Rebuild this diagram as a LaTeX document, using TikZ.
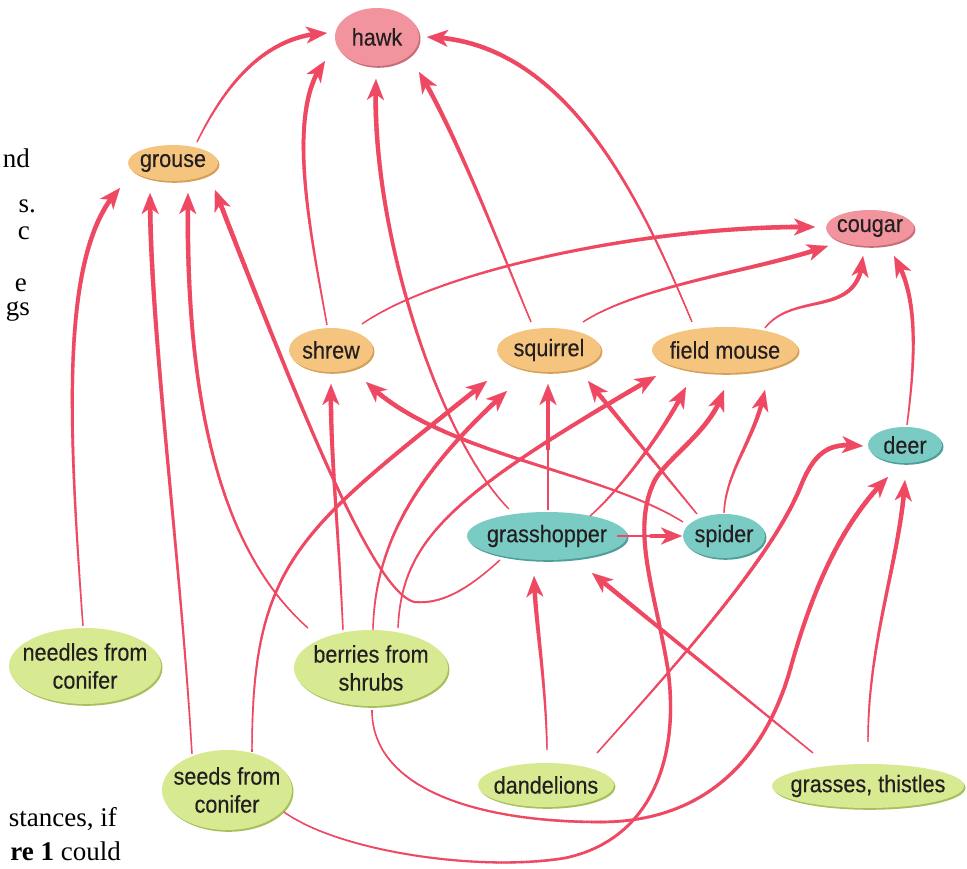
\documentclass[tikz,border=0pt]{standalone}
\usepackage{fontspec}
\setmainfont{Liberation Serif}
\newfontfamily\nodefont[FakeStretch=0.9,FakeBold=0.3]{Liberation Sans}
\usetikzlibrary{arrows.meta,bending,shapes.geometric,shadows,decorations.markings}
\definecolor{arrowred}{HTML}{EF4862}
\definecolor{predpink}{HTML}{F2949E}
\definecolor{predpinkdk}{HTML}{C96E79}
\definecolor{tanfill}{HTML}{F5C57F}
\definecolor{tandk}{HTML}{D6A05A}
\definecolor{tealfill}{HTML}{7BCBC5}
\definecolor{tealdk}{HTML}{4E9F99}
\definecolor{leaffill}{HTML}{D7EA91}
\definecolor{leafdk}{HTML}{A7C05C}
\definecolor{labeltext}{HTML}{231F20}
\tikzset{
  eco/.style={ellipse, inner sep=0pt, outer sep=0pt},
  lbl/.style={font=\nodefont\fontsize{24}{28}\selectfont, text=labeltext, align=center, inner sep=0pt},
  pred/.style={eco, fill=predpink, drop shadow={shadow xshift=1.5pt,shadow yshift=-1.8pt,fill=predpinkdk,opacity=1}},
  mid/.style={eco, fill=tanfill, drop shadow={shadow xshift=1.5pt,shadow yshift=-1.8pt,fill=tandk,opacity=1}},
  herb/.style={eco, fill=tealfill, drop shadow={shadow xshift=1.5pt,shadow yshift=-1.8pt,fill=tealdk,opacity=1}},
  plant/.style={eco, fill=leaffill, drop shadow={shadow xshift=1.5pt,shadow yshift=-1.8pt,fill=leafdk,opacity=1}},
  arr/.style={draw=arrowred, line width=0.1pt, -{Stealth[length=21pt,width=17pt,inset=6pt,flex]},
     postaction={decorate}, decoration={markings,
     mark=between positions 0 and -10pt step 2.5pt with {%
       \pgfmathsetmacro\tapw{1.4+3.4*(\pgfkeysvalueof{/pgf/decoration/mark info/distance from start})/(\pgfdecoratedpathlength)}%
       \draw[-, draw=arrowred, line width=\tapw pt] (0pt,0pt) -- (3.3pt,0pt);}}},
  side/.style={font=\fontsize{27}{30}\selectfont, text=black, inner sep=0pt}
}
\begin{document}
\begin{tikzpicture}[x=1pt,y=-1pt]
\fill[white] (0,0) rectangle (967,869);
\useasboundingbox (0,0) rectangle (967,869);

% page text fragments
\node[side, anchor=base east] (t1) at (30,168) {nd};
\node[side, anchor=base east] (t2) at (36,213) {s.};
\node[side, anchor=base east] (t3) at (30,240) {c};
\node[side, anchor=base east] (t4) at (27,291) {e};
\node[side, anchor=base east] (t5) at (30,316) {gs};
\node[side, anchor=base east] (t6) at (117,826) {stances, if};
\node[side, anchor=base east] (t7) at (121,860) {\textbf{re 1} could};

% nodes
\node[pred, minimum width=84pt, minimum height=58pt, label={[lbl]center:hawk}] (hawk) at (377,37) {};
\node[mid, minimum width=90pt, minimum height=36pt, label={[lbl]center:grouse}] (grouse) at (173,163) {};
\node[pred, minimum width=88pt, minimum height=36pt, label={[lbl]center:cougar}] (cougar) at (870,228) {};
\node[mid, minimum width=84pt, minimum height=44pt, label={[lbl]center:shrew}] (shrew) at (331,350) {};
\node[mid, minimum width=104pt, minimum height=44pt, label={[lbl]center:squirrel}] (squirrel) at (549,350) {};
\node[mid, minimum width=146pt, minimum height=46pt, label={[lbl]center:field mouse}] (fmouse) at (725,350) {};
\node[herb, minimum width=74pt, minimum height=36pt, label={[lbl]center:deer}] (deer) at (905,445) {};
\node[herb, minimum width=160pt, minimum height=48pt, label={[lbl]center:grasshopper}] (grasshopper) at (547,536) {};
\node[herb, minimum width=82pt, minimum height=44pt, label={[lbl]center:spider}] (spider) at (724,536) {};
\node[plant, minimum width=152pt, minimum height=76pt, label={[lbl]center:{needles from\\conifer}}] (needles) at (85,666) {};
\node[plant, minimum width=154pt, minimum height=76pt, label={[lbl]center:{berries from\\shrubs}}] (berries) at (371,668) {};
\node[plant, minimum width=130pt, minimum height=80pt, label={[lbl]center:{seeds from\\conifer}}] (seeds) at (227,790) {};
\node[plant, minimum width=136pt, minimum height=44pt, label={[lbl]center:dandelions}] (dandelions) at (546,785) {};
\node[plant, minimum width=192pt, minimum height=44pt, label={[lbl]center:{grasses, thistles}}] (grasses) at (868,786) {};

% to hawk
\draw[arr] ([shift={(24,-21)}]grouse.center) .. controls (225,85) and (265,35) .. ([shift={(-50,-4)}]hawk.center);
\draw[arr] ([shift={(-4,-25)}]shrew.center) .. controls (310,230) and (285,110) .. ([shift={(-52,24)}]hawk.center);
\draw[arr] ([shift={(-38,-27)}]grasshopper.center) .. controls (440,440) and (370,230) .. ([shift={(-1,42)}]hawk.center);
\draw[arr] ([shift={(-18,-28)}]squirrel.center) .. controls (505,260) and (455,130) .. ([shift={(42,35)}]hawk.center);
\draw[arr] ([shift={(-33,-28)}]fmouse.center) .. controls (645,210) and (570,40) .. ([shift={(50,0)}]hawk.center);

% to grouse
\draw[arr] ([shift={(-2,-40)}]needles.center) .. controls (68,420) and (60,250) .. ([shift={(-53,25)}]grouse.center);
\draw[arr] ([shift={(-35,-36)}]seeds.center) .. controls (180,550) and (150,330) .. ([shift={(-23,30)}]grouse.center);
\draw[arr] ([shift={(-63,-40)}]berries.center) .. controls (220,550) and (185,400) .. ([shift={(15,30)}]grouse.center);
\draw[arr] ([shift={(-47,24)}]grasshopper.center) .. controls (465,592) and (440,604) .. (415,602)
   .. controls (375,594) and (305,422) .. ([shift={(42,27)}]grouse.center);

% to squirrel
\draw[arr] ([shift={(25,-38)}]seeds.center) .. controls (252,560) and (300,530) .. ([shift={(-62,31)}]squirrel.center);
\draw[arr] ([shift={(2,-38)}]berries.center) .. controls (375,540) and (420,470) .. ([shift={(-42,41)}]squirrel.center);
\draw[arr] ([shift={(1,-26)}]grasshopper.center) -- ([shift={(-1,34)}]squirrel.center);
\draw[arr] ([shift={(-27,-22)}]spider.center) -- ([shift={(39,31)}]squirrel.center);

% to shrew
\draw[arr] ([shift={(-28,-38)}]berries.center) .. controls (338,520) and (330,450) .. ([shift={(0,34)}]shrew.center);
\draw[arr] ([shift={(-41,-14)}]spider.center) .. controls (600,470) and (440,455) .. ([shift={(35,32)}]shrew.center);

% to field mouse
\draw[arr] ([shift={(27,-40)}]berries.center) .. controls (402,540) and (450,495) .. ([shift={(-69,26)}]fmouse.center);
\draw[arr] ([shift={(43,-20)}]grasshopper.center) .. controls (620,490) and (665,430) .. ([shift={(-39,37)}]fmouse.center);
\draw[arr] ([shift={(57,22)}]seeds.center) .. controls (340,852) and (480,872) .. (565,858)
   .. controls (650,840) and (680,760) .. (668,670)
   .. controls (655,590) and (630,530) .. (655,480)
   .. controls (670,455) and (712,430) .. ([shift={(-1,40)}]fmouse.center);
\draw[arr] ([shift={(0,-23)}]spider.center) .. controls (726,470) and (755,440) .. ([shift={(40,40)}]fmouse.center);

% to spider and grasshopper
\draw[arr] ([shift={(70,0)}]grasshopper.center) -- ([shift={(-42,0)}]spider.center);
\draw[arr] ([shift={(1,-35)}]dandelions.center) .. controls (546,680) and (535,620) .. ([shift={(-13,40)}]grasshopper.center);
\draw[arr] ([shift={(-55,-33)}]grasses.center) -- ([shift={(45,37)}]grasshopper.center);

% to deer
\draw[arr] ([shift={(51,-32)}]dandelions.center) .. controls (680,660) and (770,560) .. (800,488)
   .. controls (815,450) and (830,442) .. ([shift={(-42,1)}]deer.center);
\draw[arr] ([shift={(1,42)}]berries.center) .. controls (372,790) and (480,822) .. (600,822)
   .. controls (720,822) and (770,740) .. (790,670)
   .. controls (815,580) and (845,520) .. ([shift={(-17,32)}]deer.center);
\draw[arr] ([shift={(0,-44)}]grasses.center) .. controls (868,640) and (900,560) .. ([shift={(0,35)}]deer.center);

% to cougar
\draw[arr] ([shift={(2,-20)}]deer.center) .. controls (918,340) and (915,290) .. ([shift={(24,28)}]cougar.center);
\draw[arr] ([shift={(40,-22)}]fmouse.center) .. controls (795,290) and (860,320) .. ([shift={(-7,28)}]cougar.center);
\draw[arr] ([shift={(34,-28)}]squirrel.center) .. controls (640,285) and (760,270) .. ([shift={(-42,18)}]cougar.center);
\draw[arr] ([shift={(31,-26)}]shrew.center) .. controls (440,270) and (650,225) .. ([shift={(-55,-1)}]cougar.center);
\end{tikzpicture}
\end{document}
